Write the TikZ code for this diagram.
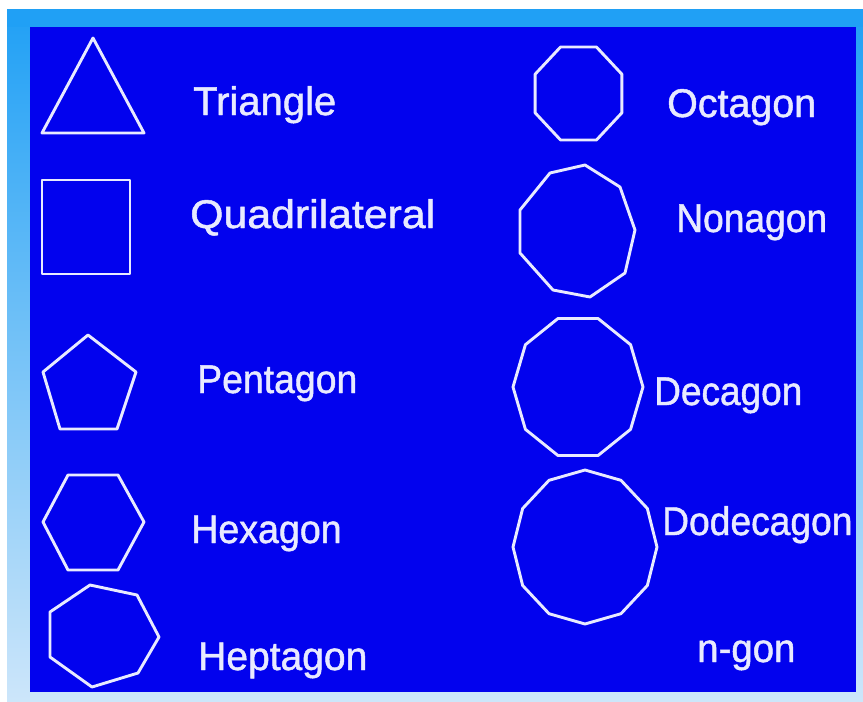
\documentclass[tikz,border=0pt]{standalone}
\usepackage{fontspec}
\setmainfont{Liberation Sans}
\newfontfamily\labelfont{Liberation Sans}[FakeBold=1.2]
\usetikzlibrary{calc}
\definecolor{panelblue}{RGB}{2,2,238}
\definecolor{framelight}{RGB}{32,160,245}
\definecolor{framepale}{RGB}{205,230,250}
\definecolor{chalk}{RGB}{232,234,255}
\tikzset{
  poly/.style={draw=chalk, line width=2.9pt, line join=round},
  lbl/.style={text=chalk, anchor=base west, inner sep=0pt, font=\labelfont\fontsize{40}{48}\selectfont}
}
\begin{document}
\begin{tikzpicture}[x=1pt,y=-1pt]
\useasboundingbox (0,0) rectangle (863,702);
\fill[white] (0,0) rectangle (863,702);
\shade[top color=framelight, bottom color=framepale] (7,9) rectangle (863,702);
\fill[framelight] (7,9) rectangle (863,27);
\fill[panelblue] (30,27) rectangle (856,692);
% left column shapes
\draw[poly] (93,38) -- (144,133) -- (42,133) -- cycle;
\draw[poly] (42,180) rectangle (130,274);
\draw[poly] (88,335) -- (136,372) -- (117,429) -- (60,429) -- (43,372) -- cycle;
\draw[poly] (68,475) -- (118,475) -- (144,522) -- (118,570) -- (68,570) -- (43,522) -- cycle;
\draw[poly] (90,585) -- (137,595) -- (159,637) -- (138,673) -- (92,687) -- (50,657) -- (50,612) -- cycle;
% right column shapes
\draw[poly] ($(578.5,93.5)+({47*cos(22.5)},{-50.3*sin(22.5)})$)
  \foreach \a in {67.5,112.5,...,337.5} { -- ($(578.5,93.5)+({47*cos(\a)},{-50.3*sin(\a)})$) } -- cycle;
\draw[poly] (550,173) -- (585,165) -- (620,187) -- (635,230) -- (625,273) -- (590,297) -- (553,290) -- (520,253) -- (520,210) -- cycle;
\draw[poly] (643,387)
  \foreach \a in {36,72,...,324} { -- ($(578,387)+({65*cos(\a)},{-72*sin(\a)})$) } -- cycle;
\draw[poly] (657,547)
  \foreach \a in {30,60,...,330} { -- ($(585,547)+({72*cos(\a)},{-77*sin(\a)})$) } -- cycle;
% labels
\node[lbl] (tri) at (193,115) {\scalebox{1.0}[1]{Triangle}};
\node[lbl] (quad) at (190,228) {\scalebox{1.07}[1]{Quadrilateral}};
\node[lbl] (pent) at (197,393) {\scalebox{0.935}[1]{Pentagon}};
\node[lbl] (hex) at (191,543) {\scalebox{0.94}[1]{Hexagon}};
\node[lbl] (hept) at (198,670) {\scalebox{0.975}[1]{Heptagon}};
\node[lbl] (oct) at (667,117) {\scalebox{0.985}[1]{Octagon}};
\node[lbl] (non) at (676,232) {\scalebox{0.93}[1]{Nonagon}};
\node[lbl] (dec) at (654,405) {\scalebox{0.925}[1]{Decagon}};
\node[lbl] (dodec) at (662,535) {\scalebox{0.93}[1]{Dodecagon}};
\node[lbl] (ngon) at (697,662) {\scalebox{0.96}[1]{n-gon}};
\end{tikzpicture}
\end{document}
